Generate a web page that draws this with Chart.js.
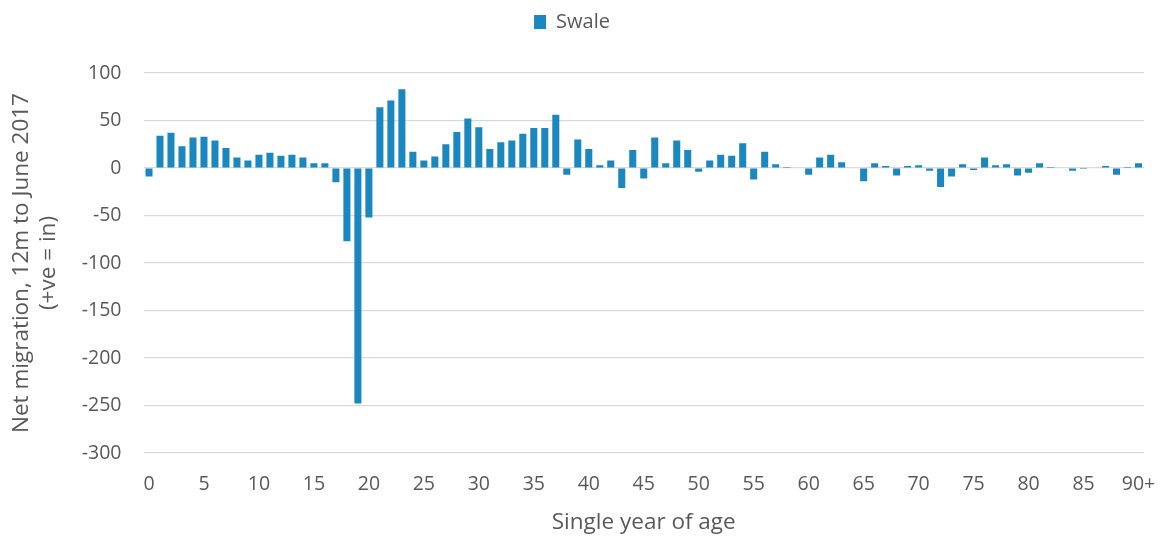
<!DOCTYPE html>
<html>
<head>
<meta charset="utf-8">
<script src="https://cdn.jsdelivr.net/npm/chart.js@4"></script>
<style>
  html, body { margin: 0; padding: 0; background: #fff; }
  #wrap { width: 1162px; height: 536px; }
</style>
</head>
<body>
<div id="wrap"><canvas id="chart" width="1162" height="536"></canvas></div>
<script>
// ages 0..89 plus 90+
const ages = [];
for (let i = 0; i < 90; i++) ages.push(String(i));
ages.push("90+");

const swale = [
    -9, 34, 37, 23, 32, 33, 29, 21, 11, 8,
    14, 16, 13, 14, 11, 5, 5, -15, -77, -248,
    -52, 64, 71, 83, 17, 8, 12, 25, 38, 52,
    43, 20, 27, 29, 36, 42, 42, 56, -7, 30,
    20, 3, 8, -21, 19, -11, 32, 5, 29, 19,
    -4, 8, 14, 13, 26, -12, 17, 4, 1, 0,
    -7, 11, 14, 6, 0, -14, 5, 2, -8, 2,
    3, -3, -20, -9, 4, -2, 11, 3, 4, -8,
    -5, 5, 1, 0, -3, -1, 0, 2, -7, 1,
    5
];

const yTicks = [-300, -250, -200, -150, -100, -50, 0, 50, 100];

const textColor = '#595959';
const fontFamily = '"Open Sans", "Noto Sans", sans-serif';

// extra room between the legend and the plot
const legendGap = {
    id: 'legendGap',
    beforeLayout(chart) {
        const lg = chart.legend;
        if (!lg || lg._gapPatched) return;
        const fit = lg.fit;
        lg.fit = function() {
            fit.call(this);
            this.height += 31;
        };
        lg._gapPatched = true;
    }
};

const ctx = document.getElementById('chart').getContext('2d');
new Chart(ctx, {
    type: 'bar',
    data: {
        labels: ages,
        datasets: [{
            label: 'Swale',
            data: swale,
            backgroundColor: '#1a87bf',
            borderWidth: 0,
            categoryPercentage: 1.0,
            barPercentage: 0.64
        }]
    },
    options: {
        responsive: false,
        animation: false,
        layout: { padding: { top: 2, right: 18, bottom: 0, left: 0 } },
        plugins: {
            legend: {
                position: 'top',
                labels: {
                    color: textColor,
                    font: { family: fontFamily, size: 20 },
                    boxWidth: 12,
                    boxHeight: 14,
                    padding: 10
                }
            },
            tooltip: { enabled: false }
        },
        scales: {
            x: {
                grid: { display: false },
                border: { display: false },
                afterFit: function(scale) {
                    scale.height = 83;
                    scale.paddingRight = 0;
                },
                ticks: {
                    color: textColor,
                    font: { family: fontFamily, size: 19.5 },
                    autoSkip: false,
                    maxRotation: 0,
                    padding: 12,
                    callback: function(value, index) {
                        return (index % 5 === 0 || index === 90) ? ages[index] : '';
                    }
                },
                title: {
                    display: true,
                    text: 'Single year of age',
                    color: textColor,
                    font: { family: fontFamily, size: 22.5 },
                    padding: { top: 0, bottom: 0 }
                }
            },
            y: {
                min: -300,
                max: 100,
                afterBuildTicks: function(scale) {
                    scale.ticks = yTicks.map(v => ({ value: v }));
                },
                afterFit: function(scale) { scale.width = 143.5; },
                grid: { color: '#d9d9d9', lineWidth: 1.2, drawTicks: false },
                border: { display: false },
                ticks: {
                    color: textColor,
                    font: { family: fontFamily, size: 19.5 },
                    padding: 22
                },
                title: {
                    display: true,
                    text: ['Net migration, 12m to June 2017', '(+ve = in)'],
                    color: textColor,
                    font: { family: fontFamily, size: 22.5 },
                    padding: { top: 8, bottom: 0 }
                }
            }
        }
    },
    plugins: [legendGap]
});
</script>
</body>
</html>
